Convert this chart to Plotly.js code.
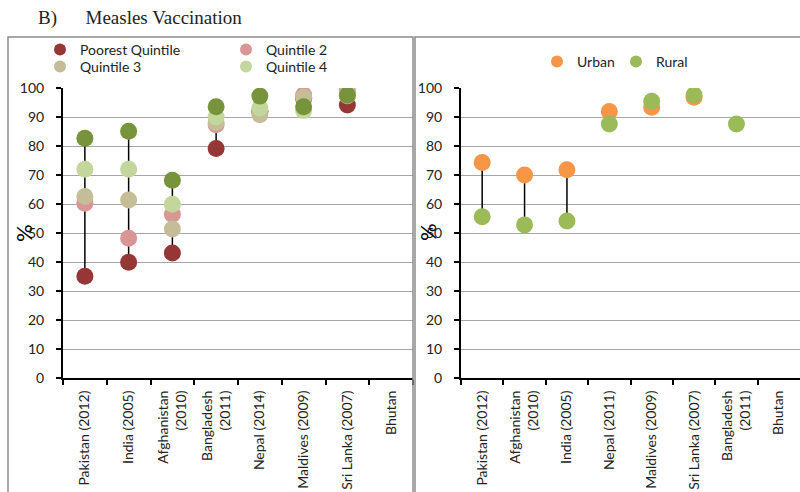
<!DOCTYPE html>
<html>
<head>
<meta charset="utf-8">
<script src="https://cdn.plot.ly/plotly-3.0.1.min.js"></script>
<style>html,body{margin:0;padding:0;background:#fff;}#chart{width:800px;height:492px;}</style>
</head>
<body>
<div id="chart"></div>
<script>
// ---- Data (left panel: wealth quintiles) ----
const categoriesLeft = ['Pakistan (2012)', 'India (2005)', 'Afghanistan<br>(2010)', 'Bangladesh<br>(2011)', 'Nepal (2014)', 'Maldives (2009)', 'Sri Lanka (2007)', 'Bhutan'];
const poorest   = [35.1, 39.9, 43.1, 79.1, 92.0, 96.5, 94.1, null];
const quintile2 = [60.3, 48.2, 56.5, 87.3, 91.9, 97.6, 99.1, null];
const quintile3 = [62.6, 61.4, 51.4, 88.1, 90.8, 96.8, 98.3, null];
const quintile4 = [72.0, 72.0, 59.9, 90.0, 93.1, 92.2, 97.3, null];
const richest   = [82.7, 85.1, 68.2, 93.5, 97.2, 93.5, 97.5, null];

// ---- Data (right panel: urban / rural) ----
const categoriesRight = ['Pakistan (2012)', 'Afghanistan<br>(2010)', 'India (2005)', 'Nepal (2011)', 'Maldives (2009)', 'Sri Lanka (2007)', 'Bangladesh<br>(2011)', 'Bhutan'];
const urban = [74.3, 70.0, 71.8, 91.9, 93.4, 96.8, null, null];
const rural = [55.6, 52.8, 54.1, 87.6, 95.4, 97.6, 87.6, null];

const yTicks = [0, 10, 20, 30, 40, 50, 60, 70, 80, 90, 100];

// high-low connector built from the series
function hiLo(cats, seriesList) {
  const xs = [], ys = [];
  cats.forEach((c, i) => {
    const vals = seriesList.map(s => s[i]).filter(v => v !== null && v !== undefined);
    if (vals.length < 2) return;
    xs.push(c, c, null);
    ys.push(Math.min(...vals), Math.max(...vals), null);
  });
  return {xs, ys};
}

const FONT = 'Lato, "Liberation Sans", sans-serif';
const MS = 17;
const leftHL = hiLo(categoriesLeft, [poorest, quintile2, quintile3, quintile4, richest]);
const rightHL = hiLo(categoriesRight, [urban, rural]);

function pts(name, cats, vals, color, xa, ya, legend, show) {
  return {type: 'scatter', mode: 'markers', name: name, x: cats, y: vals,
    xaxis: xa, yaxis: ya, legend: legend, showlegend: show,
    marker: {size: MS, color: color, line: {width: 0}}, hoverinfo: 'x+y+name'};
}

const traces = [
  {type: 'scatter', mode: 'lines', x: leftHL.xs, y: leftHL.ys, xaxis: 'x', yaxis: 'y',
   line: {color: '#000', width: 1.5}, showlegend: false, hoverinfo: 'skip', connectgaps: false},
  pts('Poorest Quintile', categoriesLeft, poorest, '#953735', 'x', 'y', 'legend', true),
  pts('Quintile 2', categoriesLeft, quintile2, '#D99694', 'x', 'y', 'legend', true),
  pts('Quintile 3', categoriesLeft, quintile3, '#C4BD97', 'x', 'y', 'legend3', true),
  pts('Quintile 4', categoriesLeft, quintile4, '#C3D69B', 'x', 'y', 'legend3', true),
  pts('Richest Quintile', categoriesLeft, richest, '#77933C', 'x', 'y', 'legend', false),
  {type: 'scatter', mode: 'lines', x: rightHL.xs, y: rightHL.ys, xaxis: 'x2', yaxis: 'y2',
   line: {color: '#000', width: 1.5}, showlegend: false, hoverinfo: 'skip', connectgaps: false},
  pts('Urban', categoriesRight, urban, '#F79646', 'x2', 'y2', 'legend2', true),
  pts('Rural', categoriesRight, rural, '#9BBB59', 'x2', 'y2', 'legend2', true)
];

const W = 800, H = 492;
const px = v => v / W;
const py = v => 1 - v / H;

const xCommon = {
  type: 'category', range: [-0.5, 7.5], showline: true, linecolor: '#000', linewidth: 2,
  ticks: 'outside', tickson: 'boundaries', ticklen: 5, tickwidth: 2, tickcolor: '#000',
  tickangle: -90, showgrid: false, zeroline: false, ticklabelstandoff: 5,
  tickfont: {family: FONT, size: 14, color: '#222'}, fixedrange: true
};
const yCommon = {
  range: [0, 100], tickvals: yTicks, showgrid: true, gridcolor: '#a6a6a6', gridwidth: 1.3,
  showline: true, linecolor: '#000', linewidth: 2, ticks: 'outside', ticklen: 5, tickwidth: 2,
  tickcolor: '#000', zeroline: false, tickfont: {family: FONT, size: 14, color: '#222'},
  ticklabelstandoff: 9, fixedrange: true
};

const yDom = [py(378), py(88)];

const layout = {
  width: W, height: H, margin: {l: 0, r: 0, t: 0, b: 0},
  paper_bgcolor: '#fff', plot_bgcolor: '#fff',
  font: {family: FONT, color: '#222'},
  title: {text: 'B)\u00a0\u00a0\u00a0\u00a0\u00a0\u00a0Measles Vaccination',
          font: {family: '"Liberation Serif", "DejaVu Serif", serif', size: 19, color: '#222'},
          x: px(38), xanchor: 'left', xref: 'paper', y: py(17), yanchor: 'middle', yref: 'container'},
  xaxis: Object.assign({}, xCommon, {domain: [px(63), px(413)], anchor: 'y', categoryarray: categoriesLeft, categoryorder: 'array'}),
  yaxis: Object.assign({}, yCommon, {domain: yDom, anchor: 'x'}),
  xaxis2: Object.assign({}, xCommon, {domain: [px(461), 1], anchor: 'y2', categoryarray: categoriesRight, categoryorder: 'array'}),
  yaxis2: Object.assign({}, yCommon, {domain: yDom, anchor: 'x2'}),
  legend: {orientation: 'h', x: px(40), xanchor: 'left', y: py(50), yanchor: 'middle',
           entrywidth: 141, entrywidthmode: 'pixels', itemsizing: 'constant',
           font: {family: FONT, size: 14, color: '#222'}, bgcolor: 'rgba(0,0,0,0)', tracegroupgap: 0},
  legend3: {orientation: 'h', x: px(40), xanchor: 'left', y: py(67), yanchor: 'middle',
           entrywidth: 141, entrywidthmode: 'pixels', itemsizing: 'constant',
           font: {family: FONT, size: 14, color: '#222'}, bgcolor: 'rgba(0,0,0,0)'},
  legend2: {orientation: 'h', x: px(537), xanchor: 'left', y: py(62), yanchor: 'middle',
           entrywidth: 34, entrywidthmode: 'pixels', itemsizing: 'constant',
           font: {family: FONT, size: 14, color: '#222'}, bgcolor: 'rgba(0,0,0,0)'},
  annotations: [
    {text: '%', xref: 'paper', yref: 'paper', x: px(23), y: py(233), textangle: -90,
     showarrow: false, font: {family: FONT, size: 22, color: '#000'}, xanchor: 'center', yanchor: 'middle'},
    {text: '%', xref: 'paper', yref: 'paper', x: px(427), y: py(232), textangle: -90,
     showarrow: false, font: {family: FONT, size: 22, color: '#000'}, xanchor: 'center', yanchor: 'middle'}
  ],
  shapes: [
    {type: 'rect', xref: 'paper', yref: 'paper', x0: px(8), x1: px(413), y0: py(37), y1: py(520),
     line: {color: '#8c8c8c', width: 1.5}, fillcolor: 'rgba(0,0,0,0)', layer: 'above'},
    {type: 'rect', xref: 'paper', yref: 'paper', x0: px(415), x1: px(830), y0: py(37), y1: py(520),
     line: {color: '#8c8c8c', width: 1.5}, fillcolor: 'rgba(0,0,0,0)', layer: 'above'}
  ],
  hovermode: 'closest'
};

Plotly.newPlot('chart', traces, layout, {displayModeBar: false, staticPlot: false});
</script>
</body>
</html>
